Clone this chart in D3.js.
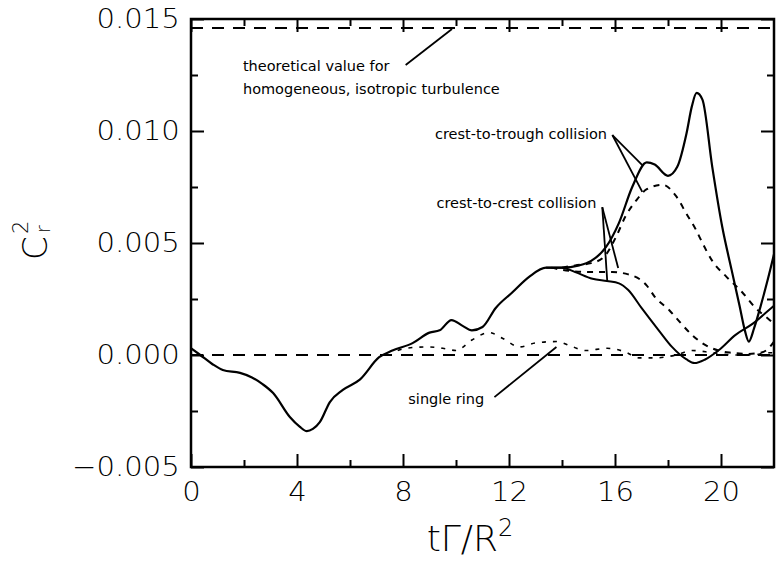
<!DOCTYPE html>
<html>
<head>
<meta charset="utf-8">
<script src="https://cdn.jsdelivr.net/npm/d3@7"></script>
<style>
    body { margin: 0; background: #fff; }
    svg { display: block; }
    .note { font-family: 'DejaVu Sans', sans-serif; font-size: 14.5px; fill: #000; }
</style>
</head>
<body>
<svg id="canvas" width="776" height="565"></svg>
<script>
/** Curve data: time tΓ/R² and C_r² */
const mainT = [0, 0.35, 0.8, 1.2, 1.85, 2.3, 2.7, 3.1, 3.73, 4.1, 4.37, 4.6, 4.86, 5.24, 5.73, 6.37, 7.1, 7.6, 8.36, 9.0, 9.38, 9.83, 10.25, 10.6, 11.0, 11.5, 12.13, 12.77, 13.4, 14.0, 14.65, 15.1, 15.65, 16.15, 16.65, 17.2, 17.5, 18.0, 18.35, 18.7, 18.9, 19.08, 19.3, 19.67, 20.05, 20.4, 20.7, 20.9, 21.05, 21.25, 21.5, 21.75, 22]
const mainC = [0.0003, 0, -0.0004, -0.00067, -0.0008, -0.001, -0.0013, -0.0017, -0.00277, -0.0032, -0.0034, -0.0033, -0.003, -0.0021, -0.00156, -0.0011, -0.0001, 0.0002, 0.00053, 0.001, 0.0011, 0.00156, 0.0013, 0.0011, 0.00125, 0.0021, 0.0028, 0.0035, 0.0039, 0.0039, 0.004, 0.0042, 0.0048, 0.0059, 0.0075, 0.0086, 0.0085, 0.008, 0.0084, 0.0099, 0.0111, 0.0117, 0.0114, 0.0084, 0.0057, 0.0038, 0.0022, 0.0011, 0.0006, 0.0012, 0.0022, 0.0033, 0.0045]

const crestSolidT = [13.4, 14.0, 14.5, 15.15, 15.7, 16.15, 16.5, 17.0, 17.65, 18.15, 18.7, 19.0, 19.4, 19.9, 20.55, 21.2, 21.9, 22]
const crestSolidC = [0.0039, 0.0039, 0.0037, 0.0034, 0.0033, 0.0032, 0.0029, 0.0021, 0.0011, 0.00036, -0.0002, -0.00036, -0.0002, 0.0002, 0.0009, 0.0014, 0.0021, 0.0022]

const troughDashT = [14.0, 14.5, 15.1, 15.6, 16.05, 16.4, 16.8, 17.2, 17.8, 18.3, 18.7, 19.05, 19.3, 19.67, 20.2, 20.8, 21.3, 21.8, 22]
const troughDashC = [0.0039, 0.004, 0.0041, 0.0044, 0.0053, 0.0062, 0.0069, 0.0074, 0.0076, 0.0071, 0.0063, 0.0056, 0.005, 0.0042, 0.0035, 0.0028, 0.0021, 0.0016, 0.0014]

const crestDashT = [13.6, 14.0, 15.1, 15.9, 16.5, 17.2, 17.5, 18.05, 18.5, 18.9, 19.4, 19.9, 20.4, 21.05, 21.5, 21.8, 22]
const crestDashC = [0.0039, 0.0038, 0.0037, 0.0037, 0.0036, 0.0031, 0.0026, 0.002, 0.0014, 0.0009, 0.00045, 0.0002, 0.0001, 0.00005, 0.0001, 0.0003, 0.0006]

const singleT = [7.8, 8.1, 8.9, 9.5, 10.0, 10.6, 11.25, 11.75, 12.4, 13.0, 13.8, 14.4, 14.9, 15.7, 16.4, 16.9, 17.5, 18.3, 18.9, 19.7, 20.55, 21.2, 21.8, 22]
const singleC = [0.0002, 0.0003, 0.00036, 0.0003, 0.0002, 0.00067, 0.001, 0.00075, 0.00036, 0.00054, 0.0006, 0.00036, 0.0002, 0.0003, 0.00013, -0.00013, -0.00013, 0, 0.0002, 0.0001, 0, 0, 0.0001, 0.0001]

const theoreticalValue = 0.0146

/** Tick values and labels */
const xMajorTicks = [0, 4, 8, 12, 16, 20]
const xMinorTicks = [2, 6, 10, 14, 18]
const yMajorTicks = [-0.005, 0, 0.005, 0.010, 0.015]
const yMinorTicks = [-0.0025, 0.0025, 0.0075, 0.0125]
const yTickLabels = ['\u22120.005', '0.000', '0.005', '0.010', '0.015']

/** Annotations: text anchor point and leader lines, in data units */
const noteTexts = [
    { text: 'theoretical value for', t: 1.96, c: 0.01267, anchor: 'start' },
    { text: 'homogeneous, isotropic turbulence', t: 1.96, c: 0.01165, anchor: 'start' },
    { text: 'crest-to-trough collision', t: 15.7, c: 0.00964, anchor: 'end' },
    { text: 'crest-to-crest collision', t: 15.3, c: 0.00656, anchor: 'end' },
    { text: 'single ring', t: 8.2, c: -0.00218, anchor: 'start' }
]
const leaderLines = [
    [[8.1, 0.01295], [9.85, 0.01455]],
    [[15.9, 0.00982], [17.03, 0.00848]],
    [[15.9, 0.00982], [17.03, 0.00728]],
    [[15.52, 0.0066], [15.71, 0.00326]],
    [[15.52, 0.0066], [16.12, 0.00388]],
    [[11.45, -0.00188], [13.79, 0.00036]]
]

let canvas = d3.select('#canvas')

/** Scales */
let x = d3.scaleLinear().domain([0, 22]).range([191, 774])
let y = d3.scaleLinear().domain([-0.005, 0.015]).range([467, 19])

const zip = (ts, cs) => ts.map((t, i) => [t, cs[i]])

let line = d3.line()
    .x((d) => x(d[0]))
    .y((d) => y(d[1]))
    .curve(d3.curveMonotoneX)

/** Horizontal dashed reference lines */
canvas.selectAll('.ref')
    .data([0, theoreticalValue])
    .enter()
    .append('line')
    .attr('x1', x(0))
    .attr('x2', x(22))
    .attr('y1', (d) => y(d))
    .attr('y2', (d) => y(d))
    .attr('stroke', '#000')
    .attr('stroke-width', 2)
    .attr('stroke-dasharray', '12,9')

/** Curves */
const curves = [
    { pts: zip(singleT, singleC), dash: '4,7', w: 1.6 },
    { pts: zip(crestDashT, crestDashC), dash: '6,6', w: 2 },
    { pts: zip(troughDashT, troughDashC), dash: '6,6', w: 2 },
    { pts: zip(crestSolidT, crestSolidC), dash: null, w: 2 },
    { pts: zip(mainT, mainC), dash: null, w: 2.2 }
]
canvas.selectAll('.curve')
    .data(curves)
    .enter()
    .append('path')
    .attr('class', 'curve')
    .attr('d', (d) => line(d.pts))
    .attr('fill', 'none')
    .attr('stroke', '#000')
    .attr('stroke-width', (d) => d.w)
    .attr('stroke-dasharray', (d) => d.dash)

/** Axes: major and minor ticks on all four sides, pointing inward */
const fontAxis = (g) => {
    g.select('.domain').remove()
    g.selectAll('line').attr('stroke', '#000').attr('stroke-width', 2)
    g.selectAll('text')
        .attr('font-family', "'DejaVu Sans', sans-serif")
        .attr('font-weight', 200)
        .attr('font-size', 26)
        .attr('fill', '#000')
}

canvas.append('g')
    .attr('transform', `translate(0,${y(-0.005)})`)
    .call(d3.axisBottom(x).tickValues(xMajorTicks).tickSize(-13).tickPadding(16))
    .call(fontAxis)
    .selectAll('text').attr('transform', 'scale(1.12,1)')
canvas.append('g')
    .attr('transform', `translate(0,${y(-0.005)})`)
    .call(d3.axisBottom(x).tickValues(xMinorTicks).tickSize(-7).tickFormat(''))
    .call(fontAxis)
canvas.append('g')
    .attr('transform', `translate(0,${y(0.015)})`)
    .call(d3.axisTop(x).tickValues(xMajorTicks).tickSize(-13).tickFormat(''))
    .call(fontAxis)
canvas.append('g')
    .attr('transform', `translate(0,${y(0.015)})`)
    .call(d3.axisTop(x).tickValues(xMinorTicks).tickSize(-7).tickFormat(''))
    .call(fontAxis)

canvas.append('g')
    .attr('transform', `translate(${x(0)},0)`)
    .call(d3.axisLeft(y).tickValues(yMajorTicks).tickSize(-13).tickPadding(10)
        .tickFormat((d, i) => yTickLabels[i]))
    .call(fontAxis)
    .selectAll('text').attr('transform', 'scale(1.12,1)')
canvas.append('g')
    .attr('transform', `translate(${x(0)},0)`)
    .call(d3.axisLeft(y).tickValues(yMinorTicks).tickSize(-7).tickFormat(''))
    .call(fontAxis)
canvas.append('g')
    .attr('transform', `translate(${x(22)},0)`)
    .call(d3.axisRight(y).tickValues(yMajorTicks).tickSize(-13).tickFormat(''))
    .call(fontAxis)
canvas.append('g')
    .attr('transform', `translate(${x(22)},0)`)
    .call(d3.axisRight(y).tickValues(yMinorTicks).tickSize(-7).tickFormat(''))
    .call(fontAxis)

/** Frame */
canvas.append('rect')
    .attr('x', x(0))
    .attr('y', y(0.015))
    .attr('width', x(22) - x(0))
    .attr('height', y(-0.005) - y(0.015))
    .attr('fill', 'none')
    .attr('stroke', '#000')
    .attr('stroke-width', 2.5)

/** Annotations */
canvas.selectAll('.note')
    .data(noteTexts)
    .enter()
    .append('text')
    .attr('class', 'note')
    .attr('x', (d) => x(d.t))
    .attr('y', (d) => y(d.c))
    .attr('text-anchor', (d) => d.anchor)
    .text((d) => d.text)

canvas.selectAll('.leader')
    .data(leaderLines)
    .enter()
    .append('line')
    .attr('x1', (d) => x(d[0][0]))
    .attr('y1', (d) => y(d[0][1]))
    .attr('x2', (d) => x(d[1][0]))
    .attr('y2', (d) => y(d[1][1]))
    .attr('stroke', '#000')
    .attr('stroke-width', 1.8)

/** Axis titles */
let xTitle = canvas.append('text')
    .attr('x', 470)
    .attr('y', 551)
    .attr('text-anchor', 'middle')
    .attr('font-family', "'DejaVu Sans', sans-serif")
    .attr('font-weight', 200)
    .attr('font-size', 36)
    .attr('fill', '#000')
xTitle.append('tspan').text('t\u0393/R')
xTitle.append('tspan').attr('font-size', 24).attr('dy', -15).text('2')

let yTitle = canvas.append('g')
    .attr('transform', 'translate(47,234) rotate(-90)')
    .attr('font-family', "'DejaVu Sans', sans-serif")
    .attr('font-weight', 200)
    .attr('fill', '#000')
yTitle.append('text').attr('x', -26).attr('y', 0).attr('font-size', 34).text('C')
yTitle.append('text').attr('x', 0).attr('y', -19).attr('font-size', 21).text('2')
yTitle.append('text').attr('x', 1).attr('y', 3).attr('font-size', 19).text('r')
</script>
</body>
</html>
